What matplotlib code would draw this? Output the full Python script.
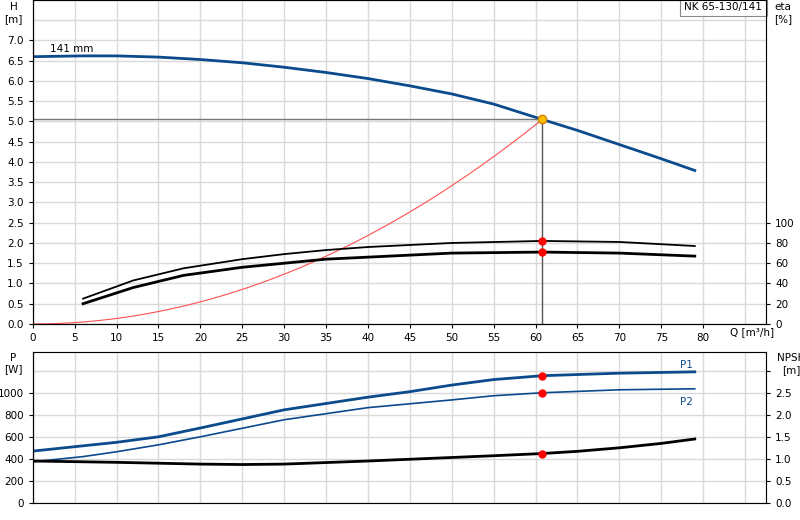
import matplotlib
matplotlib.use("Agg")
import matplotlib.pyplot as plt
import numpy as np

q_h = [0, 6, 10, 15, 20, 25, 30, 35, 40, 45, 50, 55, 60.8, 65, 70, 75, 79]
h = [6.6, 6.62, 6.62, 6.59, 6.53, 6.45, 6.34, 6.21, 6.06, 5.88, 5.68, 5.43, 5.05, 4.78, 4.43, 4.08, 3.79]
q_eta = [6, 12, 18, 25, 30, 35, 40, 50, 60.8, 70, 79]
eta_upper = [25, 43, 55, 64, 69, 73, 76, 80, 82, 81, 77]
eta_lower = [20, 36, 48, 56, 60, 64, 66, 70, 71, 70, 67]
q_p = [0, 6, 10, 15, 20, 30, 40, 45, 50, 55, 60.8, 70, 79]
p1 = [470, 518, 550, 600, 680, 845, 960, 1010, 1070, 1120, 1155, 1178, 1190]
p2 = [373, 420, 464, 527, 600, 755, 865, 900, 935, 973, 1000, 1027, 1036]
q_npsh = [0, 10, 20, 25, 30, 40, 45, 50, 55, 60.8, 65, 70, 75, 79]
npsh = [0.95, 0.92, 0.88, 0.87, 0.88, 0.95, 0.99, 1.03, 1.07, 1.12, 1.17, 1.25, 1.35, 1.45]
q_op, h_op = 60.8, 5.05
title = "NK 65-130/141"

blue = "#0b4a8b"
grid = "#d9d9d9"
fig = plt.figure(figsize=(8, 5.2), dpi=100)
ax = fig.add_axes([0.041, 0.377, 0.9165, 0.623])
ax.set_xlim(0, 87.5); ax.set_ylim(0, 8.0)
ax.set_xticks(np.arange(0, 81, 5))
ax.set_yticks(np.arange(0, 7.01, 0.5))
ax.set_yticklabels([f"{v:.1f}" for v in np.arange(0, 7.01, 0.5)])
for v in np.arange(0, 90, 5):
    ax.axvline(v, color=grid, lw=1, zorder=0)
for v in np.arange(0, 8.01, 0.5):
    ax.axhline(v, color=grid, lw=1, zorder=0)
ax.tick_params(labelsize=7.5, length=3)
ax.plot(q_h, h, color=blue, lw=2)
ax.text(2, 6.72, "141 mm", fontsize=7.5)
qs = np.linspace(0, q_op, 60)
ax.plot(qs, h_op * (qs / q_op) ** 2, color="#ff5050", lw=0.8)
ax.plot([0, q_op], [h_op, h_op], color="#777777", lw=1)
ax.plot([q_op, q_op], [0, h_op], color="#555555", lw=1)
ax.plot(q_op, h_op, "o", color="#ffc000", mec="#d08000", ms=6, zorder=5)
ax.text(88.5, -0.08, "Q [m³/h]", fontsize=7.5, ha="right", va="top")
ax.text(-2.3, 7.95, "H\n[m]", fontsize=7.5, ha="center", va="top")
ax.text(0.995, 0.995, title, transform=ax.transAxes, fontsize=7.5, ha="right", va="top",
        bbox=dict(fc="white", ec="#888888", lw=0.8, pad=3))
for s in ax.spines.values():
    s.set_color("#aaaaaa")
ax.spines["bottom"].set_color("black"); ax.spines["left"].set_color("black")
ax2 = ax.twinx()
ax2.set_ylim(0, 320)
ax2.set_yticks(np.arange(0, 101, 20))
ax2.tick_params(labelsize=7.5, length=3)
ax2.spines["right"].set_color("black")
ax2.plot(q_eta, eta_upper, color="black", lw=1.3)
ax2.plot(q_eta, eta_lower, color="black", lw=2)
ax2.plot([q_op, q_op], [eta_upper[8], eta_lower[8]], "o", color="red", ms=5)
ax2.text(89.5, 318, "eta\n[%]", fontsize=7.5, ha="center", va="top")

bx = fig.add_axes([0.041, 0.033, 0.9165, 0.29])
bx.set_xlim(0, 87.5); bx.set_ylim(0, 1370)
bx.set_xticks([])
bx.set_yticks(np.arange(0, 1001, 200))
for v in np.arange(0, 90, 5):
    bx.axvline(v, color=grid, lw=1, zorder=0)
for v in np.arange(0, 1400, 200):
    bx.axhline(v, color=grid, lw=1, zorder=0)
bx.tick_params(labelsize=7.5, length=3)
bx.plot(q_p, p1, color=blue, lw=2)
bx.plot(q_p, p2, color=blue, lw=1.2)
bx.plot([q_op, q_op], [p1[10], p2[10]], "o", color="red", ms=5)
bx.text(78, 1225, "P1", color=blue, fontsize=7.5, ha="center")
bx.text(78, 960, "P2", color=blue, fontsize=7.5, ha="center", va="top")
bx.text(-2.3, 1365, "P\n[W]", fontsize=7.5, ha="center", va="top")
for s in bx.spines.values():
    s.set_color("#aaaaaa")
bx.spines["left"].set_color("black")
bx2 = bx.twinx()
bx2.set_ylim(0, 1370 / 400)
bx2.set_yticks(np.arange(0, 3.01, 0.5))
bx2.set_yticklabels([f"{v:.1f}" for v in np.arange(0, 2.51, 0.5)] + [""])
bx2.tick_params(labelsize=7.5, length=3)
bx2.spines["right"].set_color("black")
bx2.plot(q_npsh, npsh, color="black", lw=2)
bx2.plot(q_op, npsh[9], "o", color="red", ms=5)
bx2.text(90.5, 3.4, "NPSH\n[m]", fontsize=7.5, ha="center", va="top")
fig.savefig("out.png", dpi=100)
